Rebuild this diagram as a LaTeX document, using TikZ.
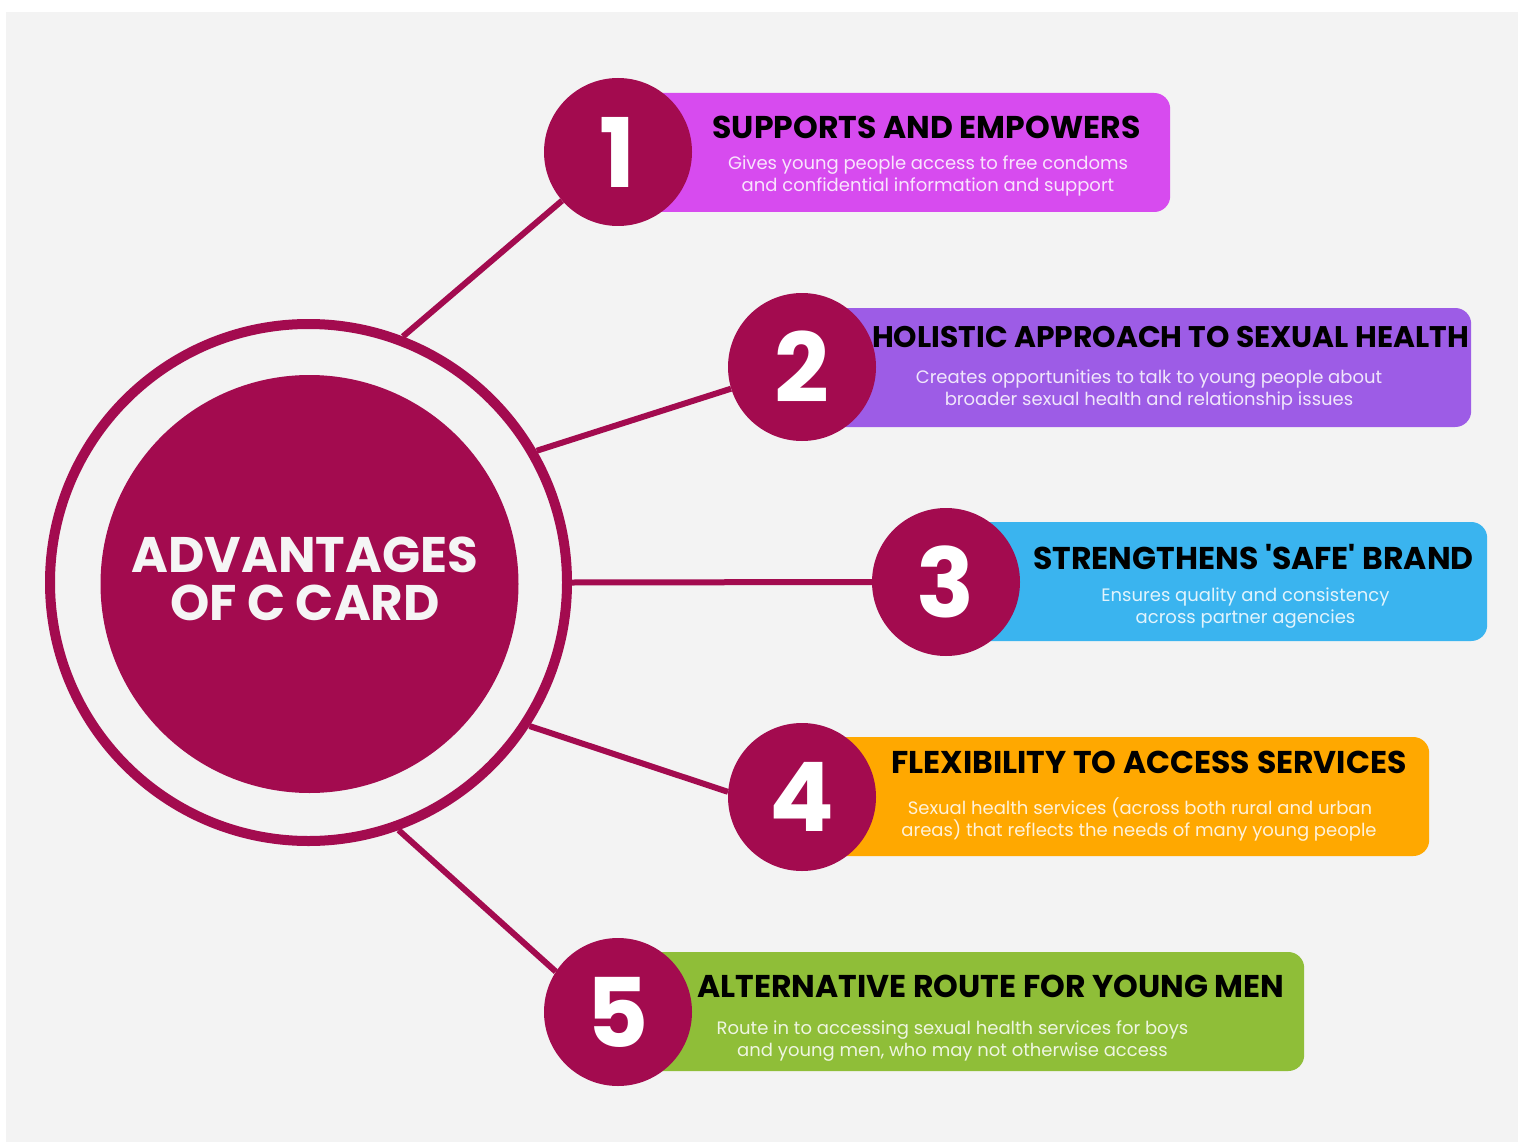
\documentclass[tikz,border=0pt]{standalone}
\usepackage{fontspec}
\setmainfont{Poppins}
\newfontfamily\popf{Poppins}
\definecolor{crim}{HTML}{A30B4F}
\definecolor{bgg}{HTML}{F3F3F3}
\definecolor{cA}{HTML}{D74BEF}
\definecolor{cB}{HTML}{9D5CE6}
\definecolor{cC}{HTML}{3AB4EF}
\definecolor{cD}{HTML}{FFA800}
\definecolor{cE}{HTML}{8FBE38}
\tikzset{
  numcircle/.style={circle, fill=crim, minimum size=148pt, inner sep=0pt, text=white,
    font=\fontsize{96}{96}\selectfont\bfseries},
  card/.style={rounded corners=16pt, minimum height=119pt, inner sep=0pt, anchor=west},
  head/.style={font=\popf\fontsize{31.5}{32}\selectfont\bfseries, text=black, inner sep=0pt, anchor=base},
  body/.style={font=\fontsize{18}{22}\selectfont, text=white, text opacity=0.85, inner sep=0pt, anchor=base},
  link/.style={draw=crim, line width=6pt},
}
\begin{document}
\begin{tikzpicture}[x=1pt,y=-1pt]
\useasboundingbox (0,0) rectangle (1518,1142);
\fill[white] (0,0) rectangle (1518,1142);
\fill[bgg] (6,12) rectangle (1518,1142);

% hub
\node[circle, draw=crim, line width=10pt, minimum size=517pt, inner sep=0pt] (ring) at (308.5,582.5) {};
\node[circle, fill=crim, minimum size=418pt, inner sep=0pt] (hub) at (309.5,584) {};
\node[text=white!96!black, align=center, inner sep=0pt,
      font=\fontsize{50}{48}\selectfont\bfseries] (title) at (305,579) {ADVANTAGES\\OF C CARD};

% cards
\node[card, fill=cA, minimum width=552pt] (k1) at (618,152.5) {};
\node[card, fill=cB, minimum width=669pt] (k2) at (802,367.5) {};
\node[card, fill=cC, minimum width=541pt] (k3) at (946,581.5) {};
\node[card, fill=cD, minimum width=627pt] (k4) at (802,796.5) {};
\node[card, fill=cE, minimum width=686pt] (k5) at (618,1011.5) {};

% number circles
\node[numcircle] (n1) at (618,152) {1};
\node[numcircle] (n2) at (802,367) {2};
\node[numcircle] (n3) at (946,582) {3};
\node[numcircle] (n4) at (802,797) {4};
\node[numcircle] (n5) at (618,1012) {5};

% connectors
\draw[link] (ring.69.7) -- (n1.221);
\draw[link] (ring.30.9) -- (n2.197);
\draw[link] (ring.0) -- (n3.180);
\draw[link] (ring.-33.1) -- (n4.176);
\draw[link] (ring.-70.9) -- (n5.147);

% texts card 1
\node[head] (h1) at (926.5,139) {SUPPORTS AND EMPOWERS};
\node[body] (t1a) at (928,169.5) {Gives young people access to free condoms};
\node[body] (t1b) at (928,191.5) {and confidential information and support};
% card 2
\node[head, font=\popf\fontsize{29.8}{30}\selectfont\bfseries] (h2) at (1170.5,347) {HOLISTIC APPROACH TO SEXUAL HEALTH};
\node[body] (t2a) at (1149,383) {Creates opportunities to talk to young people about};
\node[body] (t2b) at (1149,405) {broader sexual health and relationship issues};
% card 3
\node[head] (h3) at (1253.5,569) {STRENGTHENS 'SAFE' BRAND};
\node[body] (t3a) at (1245.5,601) {Ensures quality and consistency};
\node[body] (t3b) at (1245.5,623) {across partner agencies};
% card 4
\node[head] (h4) at (1149,773) {FLEXIBILITY TO ACCESS SERVICES};
\node[body] (t4a) at (1140,814) {Sexual health services (across both rural and urban};
\node[body] (t4b) at (1139,836) {areas) that reflects the needs of many young people};
% card 5
\node[head] (h5) at (991,997) {ALTERNATIVE ROUTE FOR YOUNG MEN};
\node[body] (t5a) at (952.5,1034) {Route in to accessing sexual health services for boys};
\node[body] (t5b) at (952.5,1056) {and young men, who may not otherwise access};
\end{tikzpicture}
\end{document}
